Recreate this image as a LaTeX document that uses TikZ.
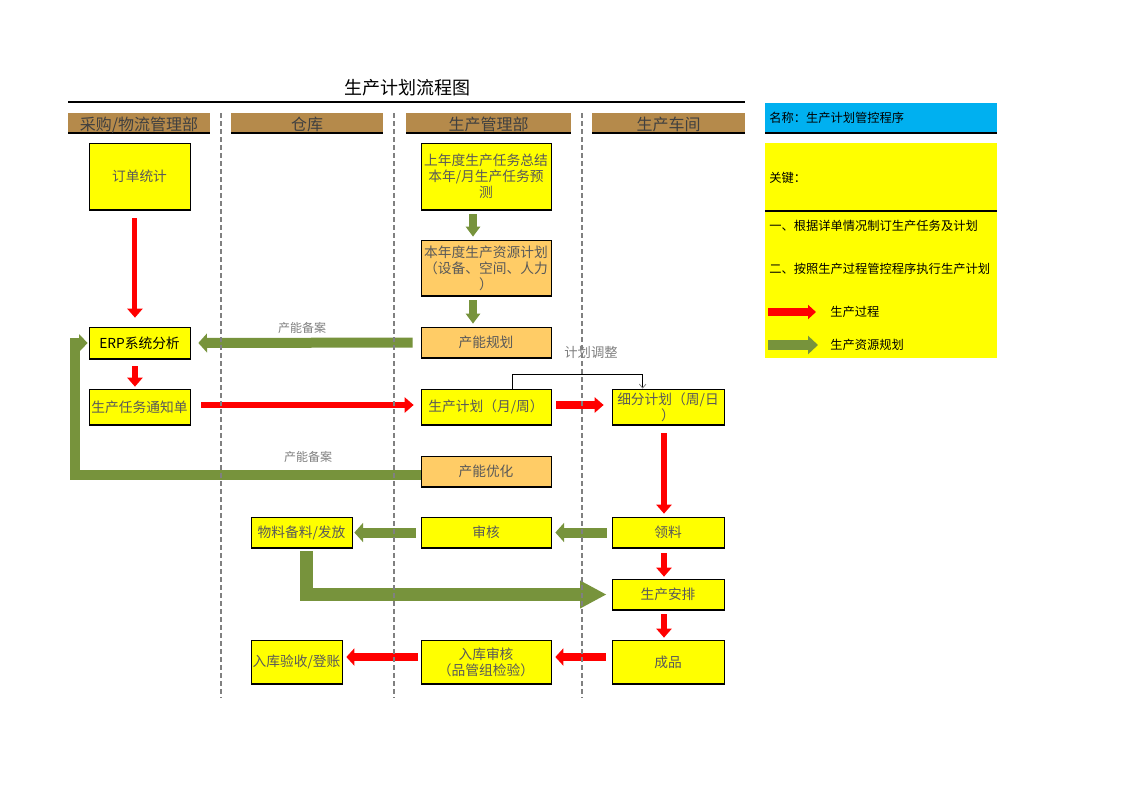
\documentclass[tikz,border=0pt]{standalone}
\usepackage{fontspec}
\setmainfont{Noto Sans CJK SC}
\usepackage{tikz}
\usetikzlibrary{arrows.meta,calc,positioning}
\definecolor{prodred}{RGB}{255,0,0}
\definecolor{resgreen}{RGB}{119,147,60}
\definecolor{boxyellow}{RGB}{255,255,0}
\definecolor{boxorange}{RGB}{255,204,102}
\definecolor{hdrbrown}{RGB}{181,138,75}
\definecolor{legblue}{RGB}{0,176,240}
\definecolor{txtgray}{RGB}{89,89,89}
\tikzset{
    box/.style ={rectangle, draw, line width=0.5pt, fill=boxyellow, text=txtgray, align=center,
        inner sep=1pt, font=\fontsize{10.3pt}{12pt}\selectfont,
        path picture={\draw[line width=2pt] (path picture bounding box.south west) -- (path picture bounding box.south east);}},
    obox/.style ={box, fill=boxorange},
    hdr/.style ={rectangle, fill=hdrbrown, text=black!75, minimum height=15pt, inner sep=0pt,
        text height=10.5pt, text depth=0pt, font=\fontsize{12pt}{14pt}\selectfont,
        path picture={\draw[line width=2.2pt] (path picture bounding box.south west) -- (path picture bounding box.south east);}},
    redarr/.style ={draw=prodred, line width=5pt, -{Triangle[width=11.25pt,length=6.75pt]}},
    grnarr/.style ={draw=resgreen, line width=7.5pt, -{Triangle[width=14pt,length=6.5pt]}},
    lane/.style ={draw=gray, line width=1.1pt, dash pattern=on 3.75pt off 2.25pt},
    note/.style ={text=gray, font=\fontsize{9pt}{11pt}\selectfont},
    leg/.style ={anchor=west, inner sep=0pt, font=\fontsize{9.2pt}{11pt}\selectfont}
}
\begin{document}
\begin{tikzpicture}[x=0.75pt,y=-0.75pt]
      \path[use as bounding box, fill=white] (0,0) rectangle (1123,794);

      % title and lanes
      \node[font=\fontsize{13.5pt}{16pt}\selectfont] (title) at (407,88) {生产计划流程图};
      \draw[line width=0.8pt] (68,102) -- (745,102);
      \node[hdr, minimum width=106.5pt] (h1) at (139,123) {采购/物流管理部};
      \node[hdr, minimum width=114pt] (h2) at (307,123) {仓库};
      \node[hdr, minimum width=123.75pt] (h3) at (488.5,123) {生产管理部};
      \node[hdr, minimum width=114.75pt] (h4) at (668.5,123) {生产车间};

      % boxes
      \node[box, minimum width=75.75pt, minimum height=50.25pt] (order) at (139.5,176.5) {订单统计};
      \node[box, minimum width=97.5pt, minimum height=50.25pt] (summary) at (486,176.5) {上年度生产任务总结\\本年/月生产任务预\\测};
      \node[obox, minimum width=97.5pt, minimum height=42pt] (resource) at (486,268) {本年度生产资源计划\\（设备、空间、人力\\）};
      \node[obox, minimum width=97.5pt, minimum height=23.25pt] (capacity) at (486,342.5) {产能规划};
      \node[box, text=black, minimum width=75.75pt, minimum height=24pt] (erp) at (139.5,343) {ERP系统分析};
      \node[box, minimum width=75.75pt, minimum height=27pt] (notice) at (139.5,407) {生产任务通知单};
      \node[box, minimum width=97.5pt, minimum height=27pt] (plan) at (486,407) {生产计划（月/周）};
      \node[box, minimum width=84pt, minimum height=27pt] (detail) at (668,407) {细分计划（周/日\\）};
      \node[obox, minimum width=97.5pt, minimum height=23.25pt] (optimize) at (486,471.5) {产能优化};
      \node[box, minimum width=75.75pt, minimum height=23.25pt] (prepare) at (301.5,532.5) {物料备料/发放};
      \node[box, minimum width=97.5pt, minimum height=23.25pt] (audit) at (486,532.5) {审核};
      \node[box, minimum width=84pt, minimum height=23.25pt] (pick) at (668,532.5) {领料};
      \node[box, minimum width=84pt, minimum height=23.25pt] (schedule) at (668,594.5) {生产安排};
      \node[box, minimum width=84pt, minimum height=33pt] (product) at (668,662) {成品};
      \node[box, minimum width=97.5pt, minimum height=33pt] (storeaudit) at (486,662) {入库审核\\（品管组检验）};
      \node[box, minimum width=68.25pt, minimum height=33pt] (receive) at (296.5,662) {入库验收/登账};

      % production flow
      \path ([xshift=-3.4pt]order.south) edge[redarr, line width=3.75pt, shorten <=6pt, shorten >=6.75pt] ([xshift=-3.4pt]erp.north);
      \path ([xshift=-3.4pt]erp.south) edge[redarr, line width=4.5pt, shorten <=5.25pt, shorten >=1.5pt] ([xshift=-3.4pt]notice.north);
      \path ([yshift=1.5pt]notice.east) edge[redarr, shorten <=8.25pt, shorten >=5.25pt] ([yshift=1.5pt]plan.west);
      \path ([yshift=1.5pt]plan.east) edge[redarr, line width=6pt, shorten <=3.75pt, shorten >=6pt] ([yshift=1.5pt]detail.west);
      \path ([xshift=-3pt]detail.south) edge[redarr, shorten <=6pt, shorten >=2.25pt] ([xshift=-3pt]pick.north);
      \path ([xshift=-3pt]pick.south) edge[redarr, shorten <=3.75pt, shorten >=1.5pt] ([xshift=-3pt]schedule.north);
      \path ([xshift=-3pt]schedule.south) edge[redarr, shorten <=3pt, shorten >=1.5pt] ([xshift=-3pt]product.north);
      \path ([yshift=3.75pt]product.west) edge[redarr, line width=6pt, -{Triangle[width=12.75pt,length=6pt]}, shorten <=4.5pt, shorten >=3pt] ([yshift=3.75pt]storeaudit.east);
      \path ([yshift=3.75pt]storeaudit.west) edge[redarr, line width=6pt, -{Triangle[width=12.75pt,length=6pt]}, shorten <=2.25pt, shorten >=3pt] ([yshift=3.75pt]receive.east);

      % resource flow
      \path ([xshift=-9.75pt]summary.south) edge[grnarr, line width=6pt, -{Triangle[width=10.5pt,length=7.5pt]}, shorten <=3pt, shorten >=2.25pt] ([xshift=-9.75pt]resource.north);
      \path ([xshift=-9.75pt]resource.south) edge[grnarr, line width=6pt, -{Triangle[width=10.5pt,length=7.5pt]}, shorten <=3pt, shorten >=2.25pt] ([xshift=-9.75pt]capacity.north);
      \path (capacity.west) edge[grnarr, shorten <=6pt, shorten >=6pt] (erp.east);
      \node[note] (rec1) at (302,328) {产能备案};
      \coordinate (loopbend) at (75,474.5);
      \draw[grnarr, -{Triangle[width=13pt,length=6.5pt]}, shorten >=0.75pt] ([yshift=-2.25pt]optimize.west) -- (loopbend) |- (erp.west);
      \node[note] (rec2) at (308,457) {产能备案};
      \path (audit.west) edge[grnarr, shorten <=3.75pt, shorten >=1.5pt] (prepare.east);
      \path (pick.west) edge[grnarr, shorten <=3.75pt, shorten >=3pt] (audit.east);
      \draw[grnarr, line width=9.75pt, -{Triangle[width=19.5pt,length=20pt]}, shorten >=3.75pt] ([xshift=3.4pt,yshift=-2.25pt]prepare.south) |- (schedule.west);

      % plan adjustment
      \coordinate (adjtop) at (512,374);
      \draw[line width=0.6pt, -{Straight Barb[gray,length=3pt,width=5pt]}] ([xshift=19.5pt]plan.north) -- (adjtop) -| ([xshift=-19pt]detail.north);
      \node[note, font=\fontsize{10pt}{12pt}\selectfont] (adjlabel) at (591,352) {计划调整};

      % lane separators
      \draw[lane] (221,113) -- (221,698);
      \draw[lane] (394,113) -- (394,698);
      \draw[lane] (582,113) -- (582,698);

      % legend
      \fill[legblue] (765,103) rectangle (997,132);
      \draw[line width=1.5pt] (765,133) -- (997,133);
      \fill[boxyellow] (765,143) rectangle (997,358);
      \draw[line width=1.5pt] (765,211) -- (997,211);
      \node[leg] (legname) at (769,118) {名称：生产计划管控程序};
      \node[leg] (legkey) at (769,178) {关键：};
      \node[leg] (legone) at (769,226) {一、根据详单情况制订生产任务及计划};
      \node[leg] (legtwo) at (769,269) {二、按照生产过程管控程序执行生产计划};
      \coordinate (legr1) at (768,312);
      \coordinate (legr2) at (816,312);
      \draw[redarr, line width=5.5pt, -{Triangle[width=10.5pt,length=6pt]}] (legr1) -- (legr2);
      \node[leg] (legprod) at (830,312) {生产过程};
      \coordinate (legg1) at (768,345);
      \coordinate (legg2) at (818,345);
      \draw[grnarr, line width=7.5pt, -{Triangle[width=13.5pt,length=7.5pt]}] (legg1) -- (legg2);
      \node[leg] (legres) at (830,345) {生产资源规划};
    \end{tikzpicture}
\end{document}
